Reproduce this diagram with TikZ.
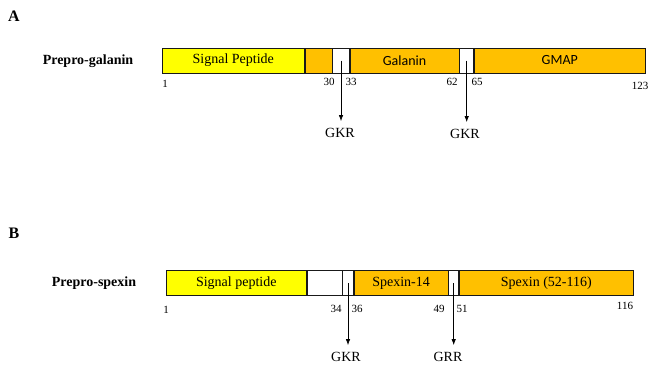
\documentclass[tikz,border=0pt]{standalone}
\usepackage{fontspec}
\setmainfont{Liberation Serif}
\newfontfamily\calfont{Carlito}
\usetikzlibrary{arrows.meta,positioning}
\definecolor{sigyel}{HTML}{FFFF00}
\definecolor{pepor}{HTML}{FFC000}
\tikzset{
  seg/.style={draw=black!90,line width=0.6pt,minimum height=25pt,inner sep=0pt,anchor=west,font=\fontsize{14}{16}\selectfont},
  gap/.style={seg,fill=white},
  resnum/.style={inner sep=0pt,font=\fontsize{11}{13}\selectfont},
  cleave/.style={inner sep=0pt,font=\fontsize{14}{16}\selectfont},
  cut/.style={-{Latex[length=6pt,width=4.5pt]},line width=0.7pt,shorten >=7pt},
  prepro/.style={font=\bfseries\fontsize{14}{16}\selectfont},
  panel/.style={inner sep=0pt,font=\bfseries\fontsize{16}{18}\selectfont}
}
\begin{document}
\begin{tikzpicture}[x=1pt,y=-1pt]
  \useasboundingbox (0,0) rectangle (649,367);
  % panel A: prepro-galanin
  \node[panel] (pA) at (14,16) {A};
  \node[prepro] (nameA) at (88,61) {Prepro-galanin};
  \node[seg,fill=sigyel,minimum width=142pt] (sigA) at (162,60.5) {Signal Peptide};
  \node[seg,fill=pepor,minimum width=27pt] (proA) at (sigA.east) {};
  \node[gap,minimum width=17pt] (gapA1) at (proA.east) {};
  \node[seg,fill=pepor,minimum width=109pt,font=\calfont\fontsize{14}{16}\selectfont] (galA) at (gapA1.east) {Galanin};
  \node[gap,minimum width=14pt] (gapA2) at (galA.east) {};
  \node[seg,fill=pepor,minimum width=171pt,font=\calfont\fontsize{14}{16}\selectfont] (gmapA) at (gapA2.east) {GMAP};
  % residue numbers
  \foreach \x/\y/\t in {165/84/1,329/82/30,351/82/33,452/82/62,477/82/65,640/86/123}
    \node[resnum] at (\x,\y) {\t};
  % cleavage sites
  \node[cleave] (kA1) at (340,133) {GKR};
  \node[cleave] (kA2) at (465,134) {GKR};
  \draw[cut] (gapA1.center) -- (gapA1.center |- kA1.north);
  \draw[cut] (gapA2.center) -- (gapA2.center |- kA2.north);
  % panel B: prepro-spexin
  \node[panel] (pB) at (14,233) {B};
  \node[prepro] (nameB) at (94,283) {Prepro-spexin};
  \node[seg,fill=sigyel,minimum width=140pt] (sigB) at (166,283) {Signal peptide};
  \node[seg,fill=white,minimum width=35pt] (proB) at (sigB.east) {};
  \node[gap,minimum width=11pt] (gapB1) at (proB.east) {};
  \node[seg,fill=pepor,minimum width=94pt] (spxB) at (gapB1.east) {Spexin-14};
  \node[gap,minimum width=10pt] (gapB2) at (spxB.east) {};
  \node[seg,fill=pepor,minimum width=174pt] (restB) at (gapB2.east) {Spexin (52-116)};
  \foreach \x/\y/\t in {166/310/1,336/309/34,357/309/36,439/309/49,462/309/51,625/306/116}
    \node[resnum] at (\x,\y) {\t};
  \node[cleave] (kB1) at (346,357) {GKR};
  \node[cleave] (kB2) at (448,357) {GRR};
  \draw[cut] (gapB1.center) -- (gapB1.center |- kB1.north);
  \draw[cut] (gapB2.center) -- (gapB2.center |- kB2.north);
\end{tikzpicture}
\end{document}
